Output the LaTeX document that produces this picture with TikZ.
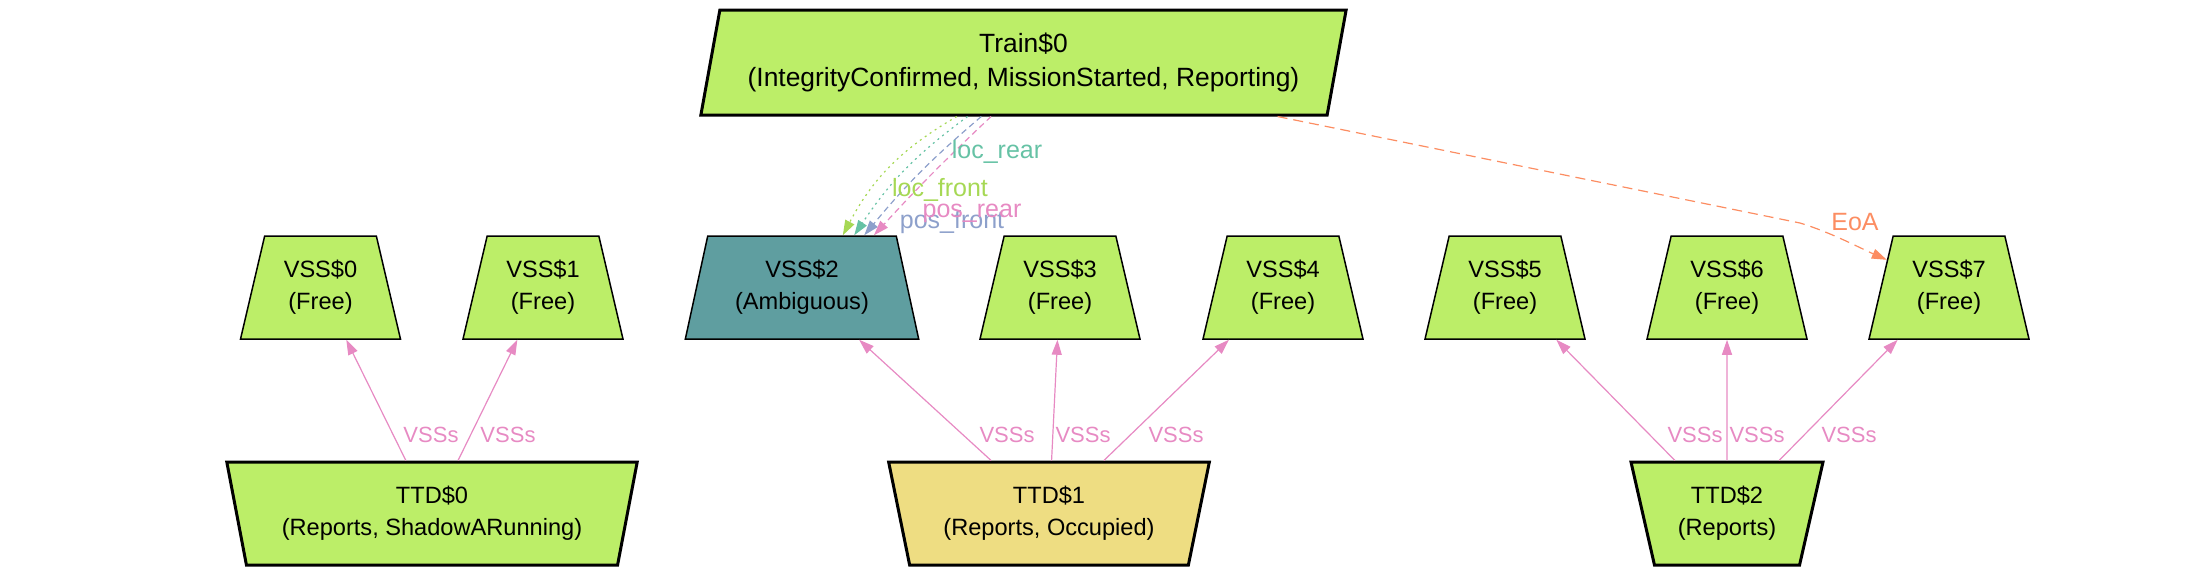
\documentclass[tikz,border=0pt]{standalone}
\usepackage{fontspec}
\setmainfont{Liberation Sans}
\usetikzlibrary{shapes.geometric,arrows.meta,calc}
\definecolor{vgreen}{HTML}{BCEE68}
\definecolor{cadet}{HTML}{5F9EA0}
\definecolor{lgold}{HTML}{EEDD82}
\definecolor{sgreen}{HTML}{A6D854}
\definecolor{steal}{HTML}{66C2A5}
\definecolor{sblue}{HTML}{8DA0CB}
\definecolor{spink}{HTML}{E78AC3}
\definecolor{sorange}{HTML}{FC8D62}
\begin{document}
\begin{tikzpicture}[x=0.5pt,y=0.5pt,
  base/.style={draw=black, align=center, inner sep=0pt, font=\fontsize{11.8}{16}\selectfont,
    trapezium, trapezium stretches=true},
  vss/.style={base, line width=0.75pt, trapezium left angle=73.7, trapezium right angle=73.7,
    minimum height=51.5pt, fill=vgreen},
  ttd/.style={base, line width=1.5pt, trapezium left angle=73.7, trapezium right angle=73.7,
    shape border rotate=180, minimum height=51.5pt, fill=vgreen},
  trainbox/.style={base, line width=1.5pt, trapezium left angle=73.7, trapezium right angle=106.3,
    minimum height=52.5pt, fill=vgreen, font=\fontsize{13.2}{17}\selectfont},
  conn/.style={line width=0.6pt, -{Triangle[length=7.5pt,width=5pt]}},
  lbl/.style={font=\fontsize{12.5}{15}\selectfont, inner sep=0pt},
  vlbl/.style={lbl, font=\fontsize{11}{13}\selectfont, text=spink},
  dotline/.style={dash pattern=on 1pt off 2pt},
  dashline/.style={dash pattern=on 3pt off 2pt}
]
\useasboundingbox (0,0) rectangle (2194,-575);

% nodes
\node[trainbox, minimum width=323.5pt] (train) at (1023.5,-62.5)
  {Train\$0\\(IntegrityConfirmed, MissionStarted, Reporting)};

\node[vss, minimum width=80pt] (v0) at (320.5,-287.5) {VSS\$0\\(Free)};
\node[vss, minimum width=80pt] (v1) at (543,-287.5) {VSS\$1\\(Free)};
\node[vss, minimum width=117.5pt, fill=cadet] (v2) at (802,-287.5) {VSS\$2\\(Ambiguous)};
\node[vss, minimum width=80pt] (v3) at (1060,-287.5) {VSS\$3\\(Free)};
\node[vss, minimum width=80pt] (v4) at (1283,-287.5) {VSS\$4\\(Free)};
\node[vss, minimum width=80pt] (v5) at (1505,-287.5) {VSS\$5\\(Free)};
\node[vss, minimum width=80pt] (v6) at (1727,-287.5) {VSS\$6\\(Free)};
\node[vss, minimum width=80pt] (v7) at (1949,-287.5) {VSS\$7\\(Free)};

\node[ttd, minimum width=205.5pt] (t0) at (432,-513.5) {TTD\$0\\(Reports, ShadowARunning)};
\node[ttd, minimum width=160.5pt, fill=lgold] (t1) at (1049,-513.5) {TTD\$1\\(Reports, Occupied)};
\node[ttd, minimum width=96.5pt] (t2) at (1727,-513.5) {TTD\$2\\(Reports)};

% TTD -> VSS
\draw[conn, spink] (t0) -- (v0);
\draw[conn, spink] (t0) -- (v1);
\draw[conn, spink] (t1) -- (v2);
\draw[conn, spink] (t1) -- (v3);
\draw[conn, spink] (t1) -- (v4);
\draw[conn, spink] (t2) -- (v5);
\draw[conn, spink] (t2) -- (v6);
\draw[conn, spink] (t2) -- (v7);

\node[vlbl] (e0) at (431,-435) {VSSs};
\node[vlbl] (e1) at (508,-435) {VSSs};
\node[vlbl] (e2) at (1007,-435) {VSSs};
\node[vlbl] (e3) at (1083,-435) {VSSs};
\node[vlbl] (e4) at (1176,-435) {VSSs};
\node[vlbl] (e5) at (1695,-435) {VSSs};
\node[vlbl] (e6) at (1757,-435) {VSSs};
\node[vlbl] (e7) at (1849,-435) {VSSs};

% Train -> VSS2
\draw[conn, sgreen, dotline] (train.219.6) to[bend right=16] (v2.52.2);
\draw[conn, steal, dotline] (train.224.5) to[bend right=10] (v2.45.9);
\draw[conn, sblue, dashline] (train.232.4) to[bend right=5] (v2.40.6);
\draw[conn, spink, dashline] (train.239.8) to[bend right=2] (v2.36.3);

\node[lbl, text=steal] (llr) at (997,-152) {loc\_rear};
\node[lbl, text=sgreen] (llf) at (940,-190) {loc\_front};
\node[lbl, text=sblue] (lpf) at (952,-222) {pos\_front};
\node[lbl, text=spink] (lpr) at (972,-213) {pos\_rear};

% Train -> VSS7
\draw[conn, sorange, dash pattern=on 5pt off 3pt] (train.348.7) -- (1800,-223)
  .. controls (1830,-232) and (1860,-248) .. (v7.156);
\node[lbl, text=sorange] (leoa) at (1855,-222) {EoA};
\end{tikzpicture}
\end{document}
